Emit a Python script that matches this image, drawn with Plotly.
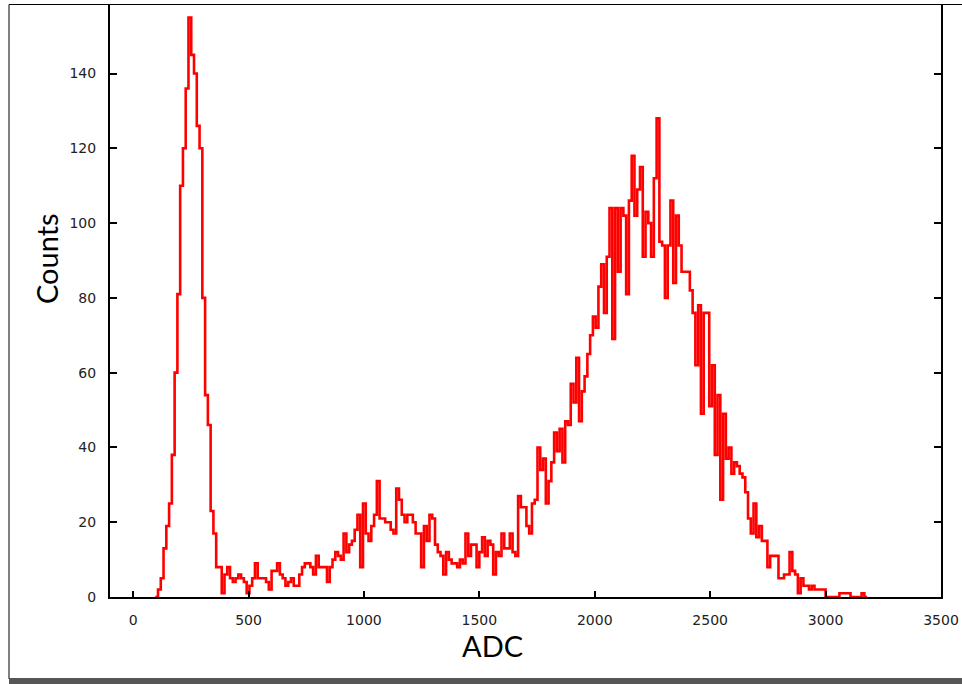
import plotly.graph_objects as go

# ---- data (histogram of ADC values, 12-channel bins starting at ADC 96) ----
BIN_START = 96
BIN_WIDTH = 12

counts_low_peak = [0, 2, 5, 13, 19, 25, 38, 60, 81, 110, 120, 136, 155, 145, 140, 126, 120, 80, 54, 46, 23, 17, 8]
counts_valley = [8, 1, 6, 8, 5, 4, 5, 6, 5, 4, 1, 3, 5, 9, 5, 5, 5, 4, 2, 7, 7, 9, 6, 5, 3, 4, 5, 3, 3, 6]
counts_rise = [8, 9, 9, 8, 6, 11, 8, 8, 8, 4, 8, 10, 12, 11, 10, 17, 12, 14, 15, 18, 22, 8, 25, 17, 15, 19, 22, 31, 21, 21]
counts_bump = [20, 20, 18, 17, 29, 26, 22, 20, 22, 22, 20, 17, 17, 8, 19, 15, 22, 21, 14, 12, 11, 6, 12, 10, 9, 9, 8, 10, 9, 17]
counts_pre_peak = [11, 14, 14, 8, 12, 16, 11, 15, 14, 6, 12, 11, 17, 13, 13, 17, 12, 11, 27, 24, 24, 19, 17, 25, 26, 40, 34, 37, 25, 31]
counts_peak_up = [36, 44, 39, 45, 36, 47, 46, 57, 52, 64, 47, 55, 59, 65, 70, 75, 72, 83, 89, 76, 91, 104, 69, 104, 87, 104, 102, 81, 106, 118]
counts_peak_top = [102, 109, 115, 91, 103, 100, 91, 112, 128, 95, 94, 80, 94, 106, 84, 102, 94, 87, 87, 87, 82, 76, 62, 78, 49, 76, 76, 51, 62, 38]
counts_peak_down = [54, 26, 49, 37, 40, 33, 36, 35, 33, 32, 28, 21, 17, 25, 16, 19, 15, 15, 8, 11, 11, 11, 5, 5, 6, 6, 12, 7, 6, 1]
counts_tail = [5, 3, 3, 2, 3, 2, 2, 2, 2, 0, 0, 0, 0, 0, 1, 1, 1, 1, 0, 0, 0, 0, 1, 0]

x_tick_vals = [0, 500, 1000, 1500, 2000, 2500, 3000, 3500]
y_tick_vals = [0, 20, 40, 60, 80, 100, 120, 140]

counts = (counts_low_peak + counts_valley + counts_rise + counts_bump + counts_pre_peak
          + counts_peak_up + counts_peak_top + counts_peak_down + counts_tail)
edges = [BIN_START + BIN_WIDTH * i for i in range(len(counts) + 1)]
ys = counts + [counts[-1]]

# ---- layout geometry (pixels) ----
W, H = 962, 684
L, R, T, B = 110, 21, 4, 87
pw, ph = W - L - R, H - T - B


def px(xp):
    return (xp - L) / pw


def py(yp):
    return (H - B - yp) / ph


fig = go.Figure()
fig.add_trace(go.Scatter(
    x=edges, y=ys, mode="lines", line=dict(color="#FF0000", width=2.6, shape="hv"),
    showlegend=False, hoverinfo="skip", cliponaxis=True,
))

tick_font = dict(family="DejaVu Sans", size=14, color="#222222")
fig.update_layout(
    width=W, height=H,
    margin=dict(l=L, r=R, t=T, b=B),
    paper_bgcolor="white", plot_bgcolor="white",
    xaxis=dict(
        range=[-100, 3500], tickvals=x_tick_vals, ticks="inside", ticklen=6, tickwidth=2,
        tickcolor="black", showline=True, linecolor="black", linewidth=2, mirror=False,
        showgrid=False, zeroline=False, tickfont=tick_font, ticklabelstandoff=9,
    ),
    yaxis=dict(
        range=[0, 158.6], tickvals=y_tick_vals, ticks="inside", ticklen=7, tickwidth=2,
        tickcolor="black", showline=True, linecolor="black", linewidth=2, mirror="ticks",
        showgrid=False, zeroline=False, tickfont=tick_font, ticklabelstandoff=9,
    ),
    annotations=[
        dict(text="Counts", xref="paper", yref="paper", x=px(46), y=py(259), showarrow=False,
             textangle=-90, xanchor="center", yanchor="middle",
             font=dict(family="Lato", size=29, color="black")),
        dict(text="ADC", xref="paper", yref="paper", x=px(492.5), y=py(645), showarrow=False,
             xanchor="center", yanchor="middle",
             font=dict(family="Lato", size=29, color="black")),
    ],
    shapes=[
        dict(type="rect", xref="paper", yref="paper", x0=px(9), x1=px(970), y0=py(679), y1=py(4.5),
             line=dict(color="black", width=1), fillcolor="rgba(0,0,0,0)", layer="above"),
        dict(type="rect", xref="paper", yref="paper", x0=px(9), x1=px(970), y0=py(684), y1=py(678),
             line=dict(width=0), fillcolor="#565656", layer="above"),
    ],
)

fig.write_html(
    "out.html",
    config={"displayModeBar": False},
    post_script="document.body.style.margin='0';document.body.style.padding='0';",
)
